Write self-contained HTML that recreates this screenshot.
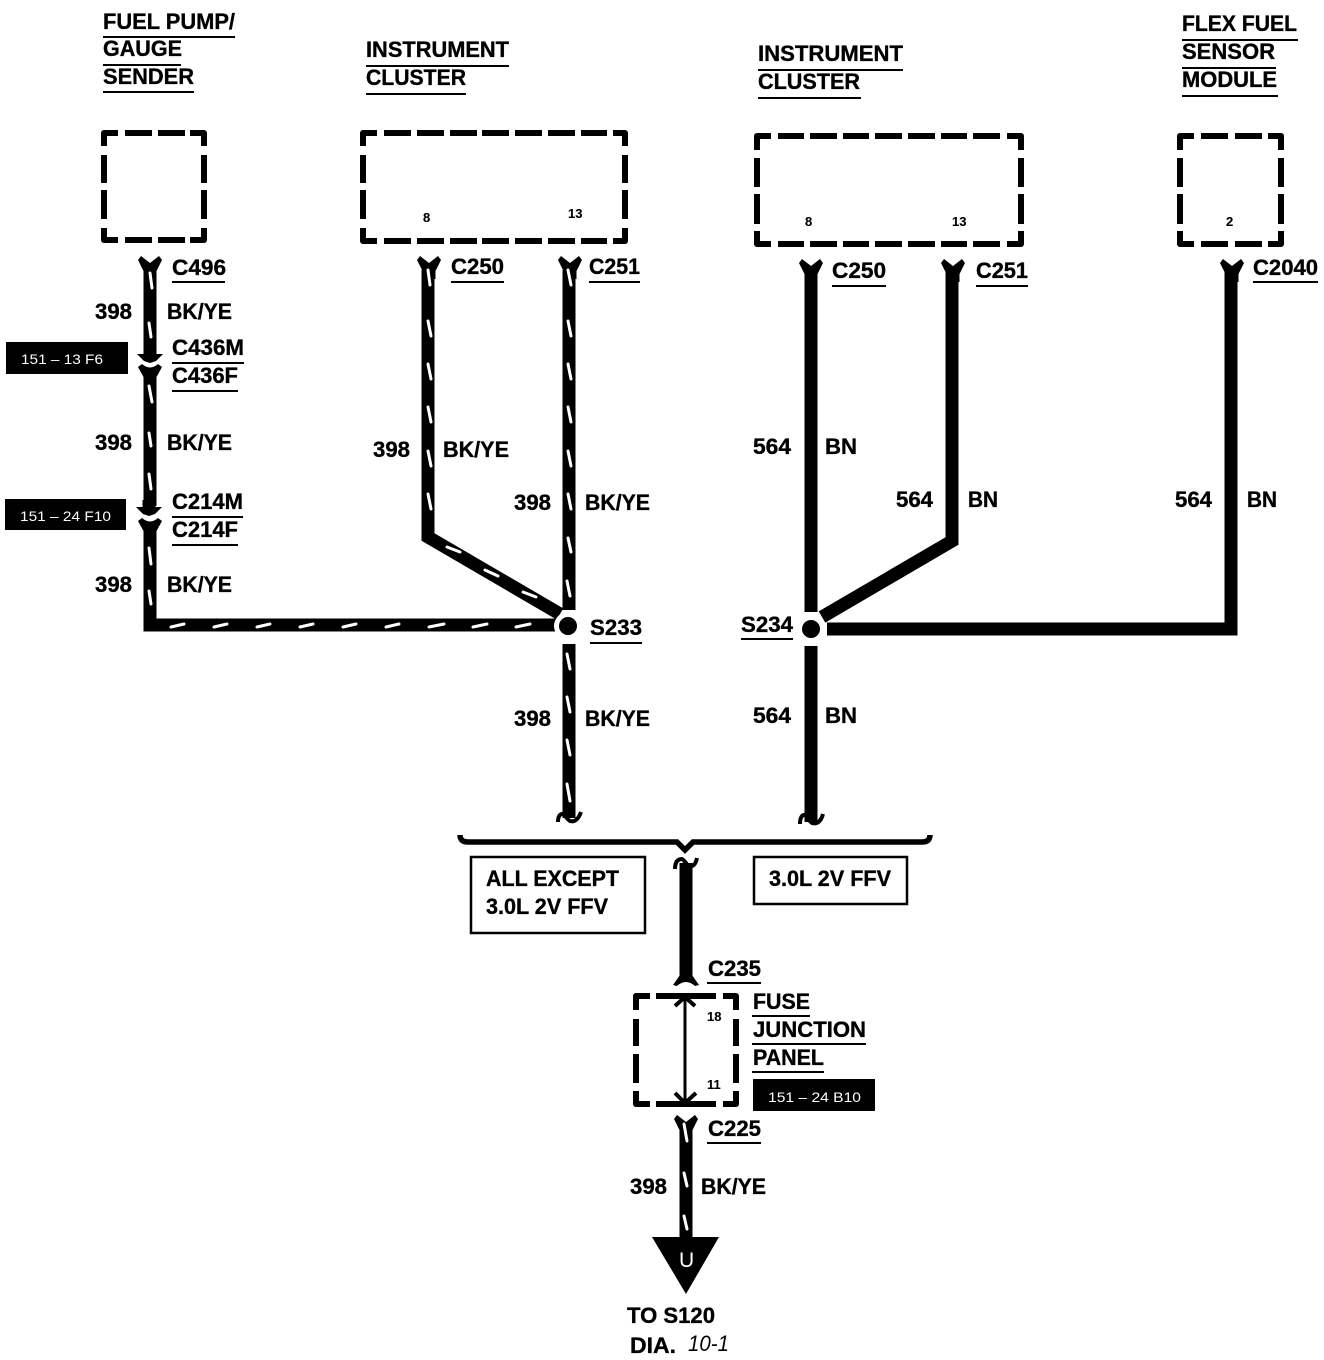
<!DOCTYPE html>
<html><head><meta charset="utf-8"><style>
html,body{margin:0;padding:0;background:#fff}
svg{display:block}
text{font-family:"Liberation Sans",sans-serif;font-weight:700;font-size:22px;fill:#000;stroke:#000;stroke-width:.35;transform:translateY(-1px)}
.p{font-size:13px;stroke-width:.1}
.w{font-size:14px;font-weight:400;fill:#fff;stroke:none}
.u{stroke:#000;stroke-width:2;fill:none}
.d{stroke:#000;stroke-width:6;fill:none;stroke-linecap:butt;stroke-linejoin:round}
.wire{stroke:#000;stroke-width:13;fill:none;stroke-linejoin:miter}
.t{stroke:#fff;stroke-width:3;fill:none;stroke-linecap:round}
</style></head><body>
<svg width="1324" height="1360" viewBox="0 0 1324 1360" xmlns="http://www.w3.org/2000/svg">
<defs>
<path id="f" d="M-12,3 L-9,-1 L0,6 L9,-1 L12,3 L6.5,14 L6.5,22 L-6.5,22 L-6.5,14 Z"/>
<path id="m" d="M-13,1 L-6.5,1 L-6.5,-6 L6.5,-6 L6.5,1 L13,1 L6,8 L0,10 L-6,8 Z"/>
<path id="g" d="M-12,2 L-8,-1 Q0,6 8,-1 L12,2 L6.5,12 L6.5,20 L-6.5,20 L-6.5,12 Z"/>
</defs>

<!-- dashed boxes -->
<path class="d" d="M104,146V133H118M125,133H152M158,133H185M190,133H204V146M104,155V183M104,190V219M104,228V240H118M125,240H152M158,240H185M190,240H204V228M204,155V183M204,190V219"/>
<path class="d" d="M363,146V133H377M384,133H411M417,133H444M450,133H477M482,133H509M515,133H542M548,133H575M581,133H607M613,133H625V146M363,155V183M363,190V219M363,228V241H377M384,241H411M417,241H444M450,241H477M482,241H509M515,241H542M548,241H575M581,241H607M613,241H625V228M625,155V183M625,190V219"/>
<path class="d" d="M757,150V136H771M778,136H804M810,136H837M843,136H869M875,136H902M908,136H935M941,136H967M973,136H1000M1007,136H1021V150M757,158V187M757,194V224M757,231V244H771M778,244H804M810,244H837M843,244H869M875,244H902M908,244H935M941,244H967M973,244H1000M1007,244H1021V231M1021,158V187M1021,194V224"/>
<path class="d" d="M1180,150V136H1194M1201,136H1228M1235,136H1262M1268,136H1281V150M1180,158V187M1180,194V224M1180,231V244H1194M1201,244H1228M1235,244H1262M1268,244H1281V231M1281,158V187M1281,194V224"/>
<path class="d" d="M636,1010V996H650M656,996H716M723,996H736V1010M636,1019V1046M636,1054V1083M636,1091V1104H650M656,1104H716M723,1104H736V1091M736,1019V1046M736,1054V1083"/>

<!-- wires -->
<path class="wire" d="M150,270V352"/>
<path class="wire" d="M150,375V506"/>
<path class="wire" d="M150,530V625H556"/>
<path class="wire" d="M428,270V537L560,614"/>
<path class="wire" d="M569,270V610"/>
<path class="wire" d="M569,644V818"/>
<path class="wire" d="M811,270V612"/>
<path class="wire" d="M811,646V822"/>
<path class="wire" d="M952,270V541L822,617"/>
<path class="wire" d="M1231,270V629H827"/>
<path class="wire" d="M686,863V980"/>
<path class="wire" d="M686,1125V1240"/>

<!-- connectors -->
<use href="#f" x="150" y="257"/><use href="#f" x="429" y="257"/><use href="#f" x="570" y="257"/>
<use href="#f" x="811" y="260"/><use href="#f" x="953" y="260"/><use href="#f" x="1232" y="260"/>
<use href="#m" x="150" y="353"/><use href="#g" x="150" y="365"/>
<use href="#m" x="149" y="506"/><use href="#g" x="150" y="519"/>
<use href="#f" x="686" y="1116"/>
<path d="M673,985 L680,975 L680,965 L692,965 L692,975 L699,985 L695,986 Q686,978 677,986 Z"/>

<!-- hooks -->
<path d="M558,822 Q558,813 564,814 Q567,819 570,821 Q577,823 581,812" fill="none" stroke="#000" stroke-width="4"/>
<path d="M800,824 Q800,814 806,815 Q809,821 812,823 Q820,825 823,814" fill="none" stroke="#000" stroke-width="4"/>
<path d="M675,869 Q675,859 682,859 Q685,861 688,866 Q695,868 697,858" fill="none" stroke="#000" stroke-width="4"/>

<!-- bracket -->
<path d="M460,835 Q460,842 468,842 L677,842 L685,850 L693,842 L922,842 Q930,842 930,835" fill="none" stroke="#000" stroke-width="5.5"/>

<!-- ticks -->
<path class="t" d="M150,273L152,288M149,323L151,337M149,386L152,402M149,433L151,446M149,474L151,489M149,548L151,564M149,591L151,604"/>
<path class="t" d="M428,270L430,285M428,321L431,336M428,364L431,379M428,407L431,422M428,451L431,466M428,494L431,509"/>
<path class="t" d="M568,270L571,285M568,321L571,336M568,364L571,379M568,407L571,422M568,451L571,466M568,494L571,509M568,538L571,552M567,581L570,596M567,654L570,669M567,697L570,712M567,740L570,755M567,784L570,801"/>
<path class="t" d="M171,627L184,624M214,627L227,624M257,627L270,624M300,627L313,624M343,627L356,624M386,627L399,624M429,627L444,624M473,627L487,624M516,627L530,624"/>
<path class="t" d="M447,547L460,552M485,570L498,576M523,592L536,597"/>
<path class="t" d="M684,1124L687,1141M684,1173L687,1186M684,1216L687,1229"/>

<!-- splices -->
<circle cx="568" cy="626" r="14" fill="#fff"/><circle cx="568" cy="626" r="9"/>
<circle cx="811" cy="629" r="14" fill="#fff"/><circle cx="811" cy="629" r="9"/>

<!-- fuse junction internals -->
<path d="M685,997V1103" stroke="#000" stroke-width="3" fill="none"/>
<path d="M675,1006L685,997L695,1006M675,1093L685,1103L696,1093" stroke="#000" stroke-width="4" fill="none"/>

<!-- arrow -->
<path d="M652,1237H719L686,1294Z"/>
<text x="679" y="1268" style="fill:#fff;stroke:none;font-size:21px;font-weight:400">U</text>

<!-- boxes -->
<rect x="471" y="857" width="174" height="76" fill="none" stroke="#000" stroke-width="2.5"/>
<rect x="754" y="857" width="153" height="47" fill="none" stroke="#000" stroke-width="2.5"/>
<rect x="6" y="342" width="122" height="32"/>
<rect x="5" y="499" width="121" height="31"/>
<rect x="753" y="1079" width="122" height="32"/>
<text class="w" x="21" y="365" textLength="82" lengthAdjust="spacingAndGlyphs">151 – 13 F6</text>
<text class="w" x="20" y="522" textLength="91" lengthAdjust="spacingAndGlyphs">151 – 24 F10</text>
<text class="w" x="768" y="1103" textLength="93" lengthAdjust="spacingAndGlyphs">151 – 24 B10</text>

<!-- headings -->
<text x="103" y="30" textLength="132" lengthAdjust="spacingAndGlyphs">FUEL PUMP/</text>
<text x="103" y="57" textLength="79" lengthAdjust="spacingAndGlyphs">GAUGE</text>
<text x="103" y="85" textLength="91" lengthAdjust="spacingAndGlyphs">SENDER</text>
<path class="u" d="M103,37H235M103,65H181M103,92H194"/>
<text x="366" y="58" textLength="143" lengthAdjust="spacingAndGlyphs">INSTRUMENT</text>
<text x="366" y="86" textLength="100" lengthAdjust="spacingAndGlyphs">CLUSTER</text>
<path class="u" d="M366,66H509M366,94H466"/>
<text x="758" y="62" textLength="145" lengthAdjust="spacingAndGlyphs">INSTRUMENT</text>
<text x="758" y="90" textLength="102" lengthAdjust="spacingAndGlyphs">CLUSTER</text>
<path class="u" d="M758,70H903M758,98H861"/>
<text x="1182" y="32" textLength="115" lengthAdjust="spacingAndGlyphs">FLEX FUEL</text>
<text x="1182" y="60" textLength="93" lengthAdjust="spacingAndGlyphs">SENSOR</text>
<text x="1182" y="88" textLength="95" lengthAdjust="spacingAndGlyphs">MODULE</text>
<path class="u" d="M1182,40H1298M1182,68H1276M1182,96H1278"/>

<!-- pins -->
<text class="p" x="423" y="223">8</text>
<text class="p" x="568" y="219">13</text>
<text class="p" x="805" y="227">8</text>
<text class="p" x="952" y="227">13</text>
<text class="p" x="1226" y="227">2</text>
<text class="p" x="707" y="1022">18</text>
<text class="p" x="707" y="1090">11</text>

<!-- connector labels -->
<text x="172" y="276" textLength="54" lengthAdjust="spacingAndGlyphs">C496</text>
<text x="172" y="356" textLength="72" lengthAdjust="spacingAndGlyphs">C436M</text>
<text x="172" y="384" textLength="66" lengthAdjust="spacingAndGlyphs">C436F</text>
<text x="172" y="510" textLength="71" lengthAdjust="spacingAndGlyphs">C214M</text>
<text x="172" y="538" textLength="66" lengthAdjust="spacingAndGlyphs">C214F</text>
<text x="451" y="275" textLength="53" lengthAdjust="spacingAndGlyphs">C250</text>
<text x="589" y="275" textLength="51" lengthAdjust="spacingAndGlyphs">C251</text>
<text x="832" y="279" textLength="54" lengthAdjust="spacingAndGlyphs">C250</text>
<text x="976" y="279" textLength="52" lengthAdjust="spacingAndGlyphs">C251</text>
<text x="1253" y="276" textLength="65" lengthAdjust="spacingAndGlyphs">C2040</text>
<text x="708" y="977" textLength="53" lengthAdjust="spacingAndGlyphs">C235</text>
<text x="708" y="1137" textLength="53" lengthAdjust="spacingAndGlyphs">C225</text>
<text x="590" y="636" textLength="52" lengthAdjust="spacingAndGlyphs">S233</text>
<text x="741" y="633" textLength="52" lengthAdjust="spacingAndGlyphs">S234</text>
<path class="u" d="M172,282H225M172,363H244M172,391H238M172,517H243M172,545H238M451,282H504M589,282H640M832,286H886M976,286H1028M1253,282H1318M707,983H761M707,1143H761M590,643H642M741,639H793"/>

<!-- wire labels -->
<text x="95" y="320" textLength="37" lengthAdjust="spacingAndGlyphs">398</text>
<text x="167" y="320" textLength="65" lengthAdjust="spacingAndGlyphs">BK/YE</text>
<text x="95" y="451" textLength="37" lengthAdjust="spacingAndGlyphs">398</text>
<text x="167" y="451" textLength="65" lengthAdjust="spacingAndGlyphs">BK/YE</text>
<text x="95" y="593" textLength="37" lengthAdjust="spacingAndGlyphs">398</text>
<text x="167" y="593" textLength="65" lengthAdjust="spacingAndGlyphs">BK/YE</text>
<text x="373" y="458" textLength="37" lengthAdjust="spacingAndGlyphs">398</text>
<text x="443" y="458" textLength="66" lengthAdjust="spacingAndGlyphs">BK/YE</text>
<text x="514" y="511" textLength="37" lengthAdjust="spacingAndGlyphs">398</text>
<text x="585" y="511" textLength="65" lengthAdjust="spacingAndGlyphs">BK/YE</text>
<text x="514" y="727" textLength="37" lengthAdjust="spacingAndGlyphs">398</text>
<text x="585" y="727" textLength="65" lengthAdjust="spacingAndGlyphs">BK/YE</text>
<text x="753" y="455" textLength="38" lengthAdjust="spacingAndGlyphs">564</text>
<text x="825" y="455" textLength="32" lengthAdjust="spacingAndGlyphs">BN</text>
<text x="896" y="508" textLength="37" lengthAdjust="spacingAndGlyphs">564</text>
<text x="968" y="508" textLength="30" lengthAdjust="spacingAndGlyphs">BN</text>
<text x="1175" y="508" textLength="37" lengthAdjust="spacingAndGlyphs">564</text>
<text x="1247" y="508" textLength="30" lengthAdjust="spacingAndGlyphs">BN</text>
<text x="753" y="724" textLength="38" lengthAdjust="spacingAndGlyphs">564</text>
<text x="825" y="724" textLength="32" lengthAdjust="spacingAndGlyphs">BN</text>
<text x="630" y="1195" textLength="37" lengthAdjust="spacingAndGlyphs">398</text>
<text x="701" y="1195" textLength="65" lengthAdjust="spacingAndGlyphs">BK/YE</text>

<!-- box text -->
<text x="486" y="887" textLength="133" lengthAdjust="spacingAndGlyphs">ALL EXCEPT</text>
<text x="486" y="915" textLength="122" lengthAdjust="spacingAndGlyphs">3.0L 2V FFV</text>
<text x="769" y="887" textLength="122" lengthAdjust="spacingAndGlyphs">3.0L 2V FFV</text>

<!-- fuse junction panel -->
<text x="753" y="1010" textLength="57" lengthAdjust="spacingAndGlyphs">FUSE</text>
<text x="753" y="1038" textLength="113" lengthAdjust="spacingAndGlyphs">JUNCTION</text>
<text x="753" y="1066" textLength="71" lengthAdjust="spacingAndGlyphs">PANEL</text>
<path class="u" d="M752,1016H810M752,1044H866M752,1072H824"/>

<!-- destination -->
<text x="627" y="1324" textLength="88" lengthAdjust="spacingAndGlyphs">TO S120</text>
<text x="630" y="1354" textLength="46" lengthAdjust="spacingAndGlyphs">DIA.</text>
<text x="688" y="1352" textLength="41" lengthAdjust="spacingAndGlyphs" style="font-weight:400;font-style:italic;stroke:none">10-1</text>
</svg>
</body></html>
